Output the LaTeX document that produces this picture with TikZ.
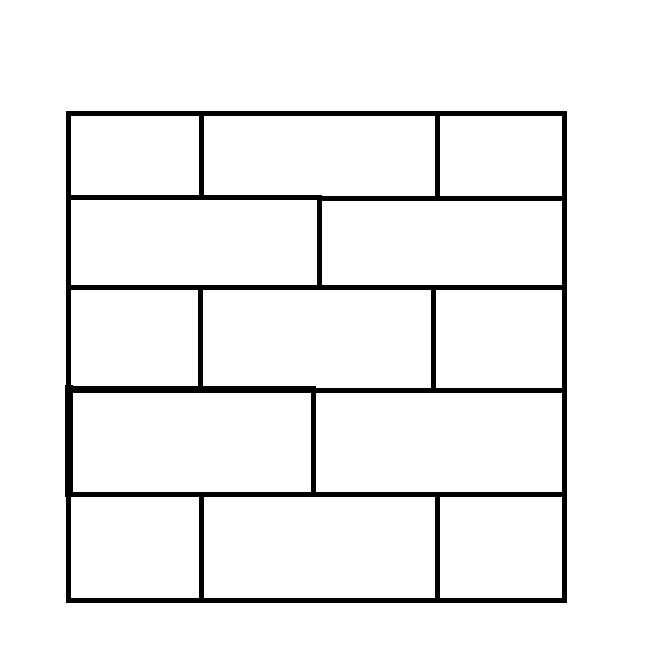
\documentclass[tikz,border=0pt]{standalone}
\begin{document}
\begin{tikzpicture}[x=1pt,y=-1pt,
  brick/.style={line width=5pt,line cap=rect},
  thickleft/.style={line width=7.7pt,line cap=rect},
  thicktop/.style={line width=6.7pt,line cap=rect}]
\useasboundingbox[fill=white] (0,0) rectangle (650,648);
% outer frame
\draw[brick] (68.5,113.7) rectangle (564.5,600);
% horizontal courses
\draw[brick] (68.5,197.3) -- (319,197.3);
\draw[brick] (319,198.2) -- (564.5,198.2);
\draw[brick] (68.5,287) -- (564.5,287);
\draw[brick] (313.3,390.5) -- (564.5,390.5);
\draw[brick] (68.5,494.3) -- (564.5,494.3);
% row 1 joints
\draw[brick] (201.3,113.7) -- (201.3,197.3);
\draw[brick] (437.7,113.7) -- (437.7,198.2);
% row 2 joint
\draw[brick] (319,197.3) -- (319,287);
% row 3 joints
\draw[brick] (200.8,287) -- (200.8,389.3);
\draw[brick] (433.3,287) -- (433.3,390.5);
% row 4 brick (heavier outline on left and top)
\draw[thicktop] (69,389.3) -- (312.3,389.3);
\draw[thickleft] (68.9,389.3) -- (68.9,493.3);
\draw[brick] (313.3,389.3) -- (313.3,494.3);
% row 5 joints
\draw[brick] (201.3,494.3) -- (201.3,600);
\draw[brick] (437.5,494.3) -- (437.5,600);
\end{tikzpicture}
\end{document}
